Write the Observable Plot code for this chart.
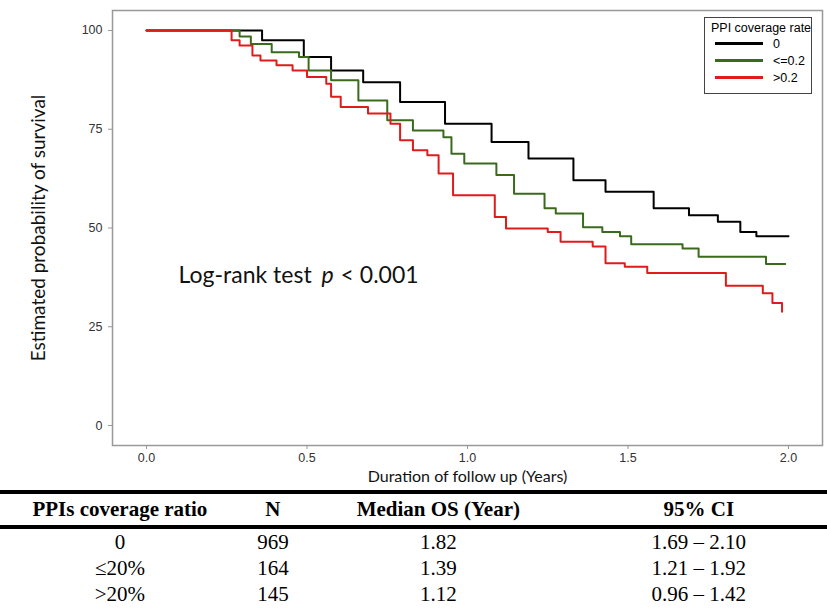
<!DOCTYPE html>
<html><head><meta charset="utf-8">
<script src="https://cdn.jsdelivr.net/npm/d3@7"></script>
<script src="https://cdn.jsdelivr.net/npm/@observablehq/plot@0.6"></script>
<style>
body{margin:0;background:#fff;}
#wrap{position:relative;width:827px;height:614px;}
#legend{position:absolute;left:704px;top:17px;width:108px;height:77px;border:1.5px solid #444;background:#fff;font:12.5px "Liberation Sans",Arial,sans-serif;box-sizing:border-box;padding:3px 4px;white-space:nowrap;}
#legend .row{display:flex;align-items:center;height:17px;}
#legend .sw{width:48px;height:2.5px;margin:0 10px 0 6px;}
table{position:absolute;left:0;top:490px;width:827px;border-collapse:collapse;font-family:"Liberation Serif",serif;font-size:21px;}
th,td{text-align:center;padding:0;}
thead th{border-top:4px solid #000;border-bottom:4px solid #000;height:31px;font-weight:bold;}
td{height:26px;}
</style></head>
<body><div id="wrap"><div id="chart"></div>
<div id="legend"><div style="padding-left:2px">PPI coverage rate</div></div>
<table id="tbl"></table></div>
<script>
const groups = ["0", "<=0.2", ">0.2"];
const colors = ["#000000", "#3a6b1d", "#e01b1b"];
const xTicks = [0, 0.5, 1, 1.5, 2];
const yTicks = [0, 25, 50, 75, 100];
const t0 = [0,0.27,0.36,0.49,0.575,0.675,0.79,0.93,1.075,1.19,1.33,1.43,1.58,1.69,1.78,1.85,1.9,2.0];
const s0 = [100,100,97.5,93.3,89.9,86.9,81.9,76.4,71.8,67.6,62.1,59.2,55,53.2,51.6,49,47.9,47.9];
const t1 = [0,0.27,0.29,0.325,0.39,0.475,0.505,0.575,0.66,0.75,0.83,0.925,0.95,0.99,1.09,1.145,1.24,1.275,1.36,1.42,1.475,1.51,1.67,1.72,1.93,1.99];
const s1 = [100,100,98.5,96.6,94.5,93.3,89.9,87.4,82.3,77.3,74.7,73,68.8,66.3,63.4,58.7,55,53.7,50.2,49,47.9,45.9,44.8,42.7,40.9,40.9];
const t2 = [0,0.26,0.265,0.29,0.33,0.355,0.405,0.455,0.5,0.56,0.575,0.605,0.69,0.76,0.79,0.83,0.875,0.91,0.955,1.085,1.12,1.25,1.29,1.39,1.43,1.49,1.56,1.805,1.92,1.95,1.98];
const s2 = [100,100,97.5,96.2,93.7,92.4,91.2,89.9,88.2,86.5,83.2,80.6,79,76.4,72.2,69.7,68.4,63.8,58.3,52.8,49.9,49,46.5,45.3,41.1,40.2,38.6,35.4,33.5,31,28.8];
const tableHead = ["PPIs coverage ratio", "N", "Median OS (Year)", "95% CI"];
const ratios = ["0", "≤20%", ">20%"];
const nPatients = [969, 164, 145];
const medians = ["1.82", "1.39", "1.12"];
const cis = ["1.69 – 2.10", "1.21 – 1.92", "0.96 – 1.42"];

const data = [];
[[t0,s0],[t1,s1],[t2,s2]].forEach(([t,s],g) => t.forEach((x,i) => data.push({group: groups[g], t: x, s: s[i]})));

const chart = Plot.plot({
  width: 827, height: 490,
  marginLeft: 112, marginRight: 5, marginTop: 10, marginBottom: 45,
  style: {fontFamily: "Liberation Sans, Arial, sans-serif", fontSize: "12.5px", color: "#333"},
  x: {domain: [-0.106, 2.106], label: null},
  y: {domain: [-5.06, 105.06], label: null},
  color: {domain: groups, range: colors},
  marks: [
    Plot.frame({stroke: "#999", strokeWidth: 1.5}),
    Plot.axisX({ticks: xTicks, tickFormat: d3.format(".1f"), tickSize: 4, tickPadding: 4, stroke: "#999", label: null}),
    Plot.axisY({ticks: yTicks, tickSize: 4, tickPadding: 6, stroke: "#999", label: null}),
    Plot.line(data, {x: "t", y: "s", z: "group", stroke: "group", curve: "step-after", strokeWidth: 2}),
    Plot.text(["Log-rank test"], {x: 0.1, y: 38, text: d => d, textAnchor: "start", fontSize: 23, fontFamily: "Lato, sans-serif", fill: "#111"}),
    Plot.text(["p"], {x: 0.1, y: 38, dx: 143, text: d => d, textAnchor: "start", fontSize: 23, fontStyle: "italic", fontFamily: "Lato, sans-serif", fill: "#111"}),
    Plot.text(["< 0.001"], {x: 0.1, y: 38, dx: 162, text: d => d, textAnchor: "start", fontSize: 23, fontFamily: "Lato, sans-serif", fill: "#111"}),
    Plot.text(["Duration of follow up (Years)"], {frameAnchor: "bottom", dy: 36, text: d => d, fontSize: 16, fontFamily: "Lato, sans-serif", fill: "#111"}),
    Plot.text(["Estimated probability of survival"], {frameAnchor: "left", dx: -74, rotate: -90, textAnchor: "middle", text: d => d, fontSize: 19, fontFamily: "Lato, sans-serif", fill: "#111"})
  ]
});
d3.select("#chart").append(() => chart);

const leg = d3.select("#legend");
groups.forEach((g,i) => {
  const r = leg.append("div").attr("class","row");
  r.append("div").attr("class","sw").style("background", colors[i]);
  r.append("span").text(g);
});

const tbl = d3.select("#tbl");
const hr = tbl.append("thead").append("tr");
const widths = ["29%","8%","32%","31%"];
tableHead.forEach((h,i) => hr.append("th").style("width", widths[i]).text(h));
const tb = tbl.append("tbody");
ratios.forEach((r,i) => {
  const tr = tb.append("tr");
  [r, nPatients[i], medians[i], cis[i]].forEach(v => tr.append("td").text(v));
});
</script></body></html>
